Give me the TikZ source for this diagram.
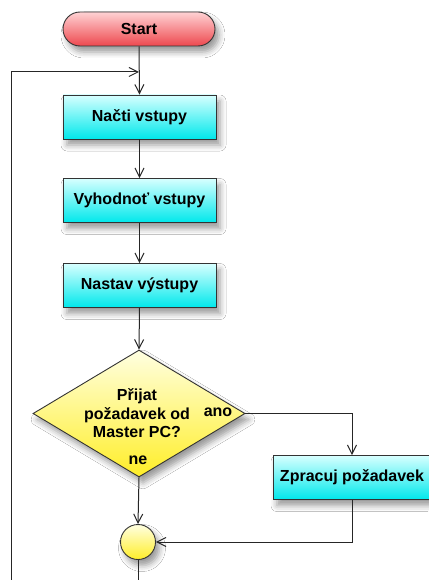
\documentclass[tikz,border=0pt]{standalone}
\usepackage{fontspec}
\setmainfont{Liberation Sans}
\usetikzlibrary{shapes.geometric,arrows.meta,shadows.blur}
\definecolor{redtop}{RGB}{255,210,212}
\definecolor{redbot}{RGB}{238,72,78}
\definecolor{cyantop}{RGB}{215,255,255}
\definecolor{cyanbot}{RGB}{0,232,235}
\definecolor{yeltop}{RGB}{255,255,225}
\definecolor{yelbot}{RGB}{255,238,40}
\tikzset{
  shad/.style={blur shadow={shadow xshift=4pt,shadow yshift=-6pt,shadow blur radius=6pt,shadow opacity=40}},
  txt/.style={font=\fontsize{16}{18.5}\selectfont\bfseries,align=center},
  startbox/.style={shad,draw=black!80,line width=0.9pt,rounded corners=17pt,minimum width=152pt,minimum height=34pt,inner sep=0pt,top color=redtop,bottom color=redbot,txt},
  procbox/.style={shad,draw=black!80,line width=0.9pt,minimum width=153pt,minimum height=44pt,inner sep=0pt,top color=cyantop,bottom color=cyanbot,txt},
  decbox/.style={shad,diamond,draw=black!80,line width=0.9pt,minimum width=212pt,minimum height=127pt,inner sep=0pt,top color=yeltop,bottom color=yelbot},
  joinc/.style={shad,circle,draw=black!80,line width=0.9pt,minimum size=35pt,inner sep=0pt,top color=yeltop,bottom color=yelbot},
  conn/.style={draw=black!85,line width=1pt},
  arr/.style={conn,-{Straight Barb[length=9pt,width=9pt,line width=1pt]}},
  lbl/.style={txt,inner sep=0pt}
}
\begin{document}
\begin{tikzpicture}[x=1pt,y=-1pt]
\useasboundingbox[fill=white] (0,0) rectangle (428,580);
\node[startbox] (start) at (139,29) {Start};
\node[procbox] (read) at (139.5,117) {Načti vstupy};
\node[procbox] (eval) at (139.5,200.5) {Vyhodnoť vstupy};
\node[procbox] (set) at (139.5,285.5) {Nastav výstupy};
\node[decbox] (dec) at (139,413.5) {};
\node[lbl,align=center] (dectext) at (137,413.5) {Přijat\\požadavek od\\Master PC?};
\node[lbl] (ano) at (218,412) {ano};
\node[lbl] (ne) at (138,460) {ne};
\node[procbox,minimum width=158pt] (proc) at (352,477.5) {Zpracuj požadavek};
\node[joinc] (jn) at (138,542) {};
\coordinate (loopbot) at (11,580);
\coordinate (loopcorner) at (11,72);
\coordinate (merge) at (139,72);
\coordinate (outbot) at (138,580);
\coordinate (anocorner) at (352,413.5);
\coordinate (proccorner) at (352,542);
\draw[arr] (start.south) -- (read.north);
\draw[arr] (loopbot) -- (loopcorner) -- (merge);
\draw[arr] (read.south) -- (eval.north);
\draw[arr] (eval.south) -- (set.north);
\draw[arr] (set.south) -- (dec.north);
\draw[arr] (dec.east) -- (anocorner) -- (proc.north);
\draw[arr] (dec.south) -- (jn.north);
\draw[arr] (proc.south) -- (proccorner) -- (jn.east);
\draw[conn] (jn.south) -- (outbot);
\end{tikzpicture}
\end{document}
